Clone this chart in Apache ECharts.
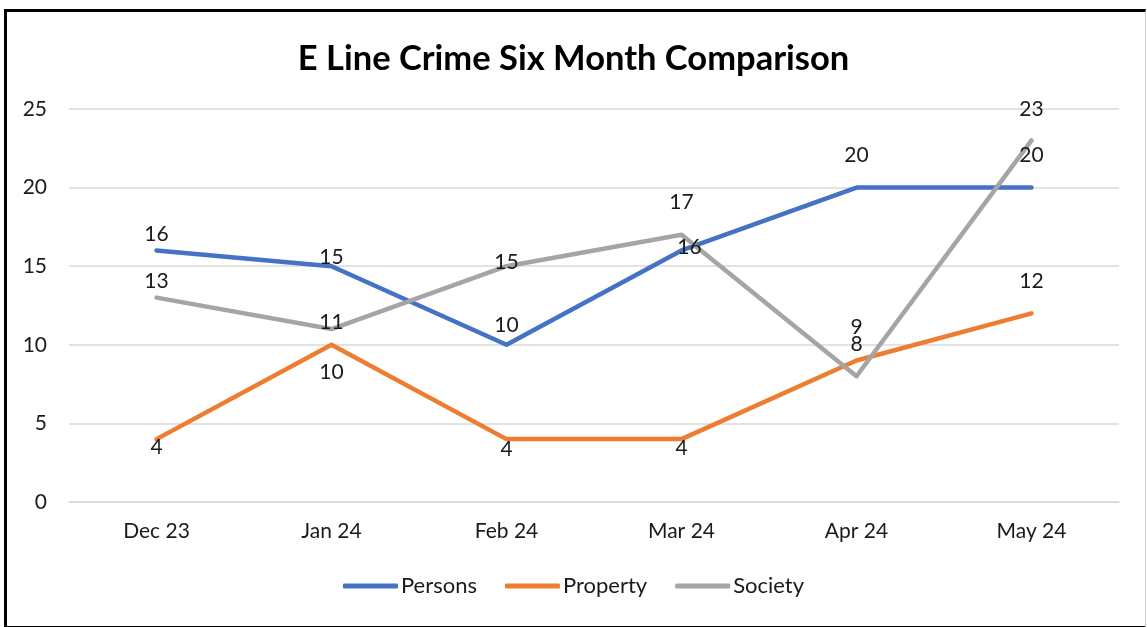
<!DOCTYPE html>
<html>
<head>
<meta charset="utf-8">
<script src="https://cdn.jsdelivr.net/npm/echarts@6/dist/echarts.min.js"></script>
<style>
html,body{margin:0;padding:0;background:#fff;}
#frame{position:absolute;left:4px;top:9px;width:1138px;height:614px;border-left:3px solid #000;border-top:3px solid #000;border-bottom:3px solid #000;border-right:1px solid #d0d0d0;box-sizing:content-box;}
#chart{position:absolute;left:0;top:0;width:1147px;height:627px;}
</style>
</head>
<body>
<div id="chart"></div>
<div id="frame" style="pointer-events:none"></div>
<script>
const categories = ['Dec 23', 'Jan 24', 'Feb 24', 'Mar 24', 'Apr 24', 'May 24'];
const persons = [16, 15, 10, 16, 20, 20];
const property = [4, 10, 4, 4, 9, 12];
const society = [13, 11, 15, 17, 8, 23];
const seriesNames = ['Persons', 'Property', 'Society'];

// label offsets (layout only)
const personsLabelOffsets = [[0,-16],[0,-9],[0,-20],[8,-3],[0,-32],[0,-32]];
const propertyLabelOffsets = [[0,8],[0,27],[0,10],[0,9],[0,-33],[0,-32]];
const societyLabelOffsets = [[0,-16],[0,-7],[0,-4],[0,-33],[0,-32],[0,-31]];

const FONT = 'Lato, "Open Sans", sans-serif';

function mkData(values, offsets) {
  return values.map((v, i) => ({ value: v, label: { offset: offsets[i] } }));
}
function mkSeries(name, values, offsets, color) {
  return {
    name: name,
    type: 'line',
    data: mkData(values, offsets),
    symbol: 'circle',
    symbolSize: 0.01,
    showSymbol: true,
    lineStyle: { color: color, width: 4.5, cap: 'round', join: 'round' },
    itemStyle: { color: color },
    label: {
      show: true,
      position: 'inside',
      color: '#1a1a1a',
      fontSize: 21,
      fontFamily: FONT
    },
    emphasis: { disabled: true },
    animation: false
  };
}

const chart = echarts.init(document.getElementById('chart'), null, { renderer: 'canvas' });
chart.setOption({
  backgroundColor: '#fff',
  animation: false,
  title: {
    text: 'E Line Crime Six Month Comparison',
    left: 'center',
    top: 36,
    textStyle: { fontFamily: FONT, fontWeight: 'bold', fontSize: 34.5, color: '#000' }
  },
  grid: { left: 69, right: 28, top: 109, bottom: 125, containLabel: false },
  legend: {
    data: seriesNames,
    bottom: 25,
    left: 'center',
    icon: 'roundRect',
    itemWidth: 55,
    itemHeight: 5,
    itemGap: 28,
    textStyle: { fontFamily: FONT, fontSize: 22, color: '#1a1a1a', padding: [0, 0, 0, -2] }
  },
  xAxis: {
    type: 'category',
    data: categories,
    boundaryGap: true,
    axisLine: { lineStyle: { color: '#d9d9d9', width: 1.5 } },
    axisTick: { show: false },
    axisLabel: { fontFamily: FONT, fontSize: 21, color: '#1a1a1a', margin: 19 }
  },
  yAxis: {
    type: 'value',
    min: 0,
    max: 25,
    interval: 5,
    axisLine: { show: false },
    axisTick: { show: false },
    splitLine: { lineStyle: { color: '#d9d9d9', width: 1.5 } },
    axisLabel: { fontFamily: FONT, fontSize: 21, color: '#1a1a1a', margin: 22 }
  },
  series: [
    mkSeries(seriesNames[0], persons, personsLabelOffsets, '#4472C4'),
    mkSeries(seriesNames[1], property, propertyLabelOffsets, '#ED7D31'),
    mkSeries(seriesNames[2], society, societyLabelOffsets, '#A5A5A5')
  ]
});
</script>
</body>
</html>
